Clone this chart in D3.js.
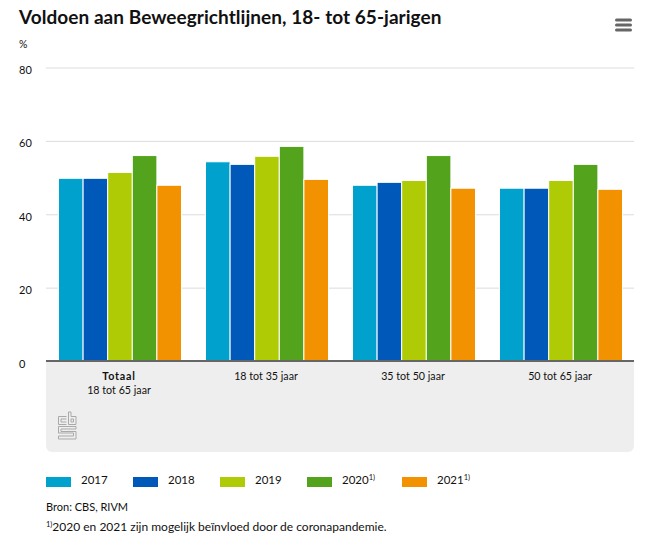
<!DOCTYPE html>
<html><head><meta charset="utf-8">
<script src="https://cdn.jsdelivr.net/npm/d3@7"></script>
<style>
html,body{margin:0;padding:0;background:#fff}
svg{display:block}
text{font-family:"Lato","Noto Sans",sans-serif;fill:#111}
</style></head><body>
<svg id="c" width="657" height="543"></svg>
<script>
const categories = ["Totaal", "18 tot 35 jaar", "35 tot 50 jaar", "50 tot 65 jaar"];
const years = ["2017", "2018", "2019", "2020", "2021"];
const colors = ["#00a1cd", "#0058b8", "#afcb05", "#53a31d", "#f39200"];
const v2017 = [49.8, 54.3, 47.9, 47.1];
const v2018 = [49.8, 53.6, 48.7, 47.1];
const v2019 = [51.4, 55.8, 49.2, 49.2];
const v2020 = [56.0, 58.5, 56.0, 53.6];
const v2021 = [47.9, 49.5, 47.1, 46.8];
const seriesValues = [v2017, v2018, v2019, v2020, v2021];
const yTicks = [0, 20, 40, 60, 80];
const legendMarks = ["", "", "", "1)", "1)"];

const svg = d3.select("#c");
const x0 = d3.scaleBand().domain(categories).range([46, 634]);
const x1 = d3.scaleBand().domain(years).range([12.5, 135.5]);
const y = d3.scaleLinear().domain([0, 80]).range([361, 67.5]);

svg.append("text").attr("x", 19).attr("y", 24).attr("font-size", 19).attr("font-weight", 700)
  .style("letter-spacing", "0.05px").text("Voldoen aan Beweegrichtlijnen, 18- tot 65-jarigen");
svg.append("text").attr("x", 19).attr("y", 48).attr("font-size", 10.5).text("%");

// menu icon
svg.append("g").attr("fill", "#666").selectAll("rect").data([0, 1, 2]).join("rect")
  .attr("x", 615).attr("y", d => 18.5 + d * 5).attr("width", 17).attr("height", 3).attr("rx", 1.5);

// panel
svg.append("path").attr("fill", "#eeeeee")
  .attr("d", "M46,361H634V446a6,6 0 0 1 -6,6H52a6,6 0 0 1 -6,-6Z");

// grid + axis labels
const grid = svg.append("g");
grid.selectAll("line").data(yTicks.filter(d => d > 0)).join("line")
  .attr("x1", 46).attr("x2", 634).attr("y1", d => y(d) + .5).attr("y2", d => y(d) + .5)
  .attr("stroke", "#dcdcdc").attr("stroke-width", 1);
grid.selectAll("text").data(yTicks).join("text")
  .attr("x", 19).attr("y", d => y(d) + 6.5).attr("font-size", 11).text(d => d);

// bars
const groups = svg.append("g").selectAll("g").data(categories).join("g")
  .attr("transform", c => `translate(${x0(c)},0)`);
groups.selectAll("rect").data((c, i) => years.map((yr, s) => ({yr, s, v: seriesValues[s][i]}))).join("rect")
  .attr("x", d => x1(d.yr)).attr("width", x1.bandwidth())
  .attr("y", d => y(d.v)).attr("height", d => y(0) - y(d.v))
  .attr("fill", d => colors[d.s]).attr("stroke", "#fff").attr("stroke-width", 1);

// axis line
svg.append("line").attr("x1", 46).attr("x2", 634).attr("y1", 361).attr("y2", 361)
  .attr("stroke", "#666").attr("stroke-width", 2);

// category labels
const lab = svg.append("g").attr("text-anchor", "middle").attr("font-size", 10.7);
lab.selectAll("text.cat").data(categories).join("text").attr("class", "cat")
  .attr("x", c => x0(c) + x0.bandwidth() / 2 - 0.5).attr("y", 380)
  .attr("font-weight", (c, i) => i === 0 ? 700 : 400)
  .style("letter-spacing", (c, i) => i === 0 ? "0.8px" : "0").text(c => c);
lab.append("text").attr("x", x0(categories[0]) + x0.bandwidth() / 2 - 0.5).attr("y", 394).text("18 tot 65 jaar");

// cbs logo
const logo = svg.append("g").attr("fill", "none").attr("stroke", "#a9a9a9").attr("stroke-width", 1);
logo.append("path").attr("d", "M66.5,416.5H58.5V424.5H66.5M66.5,419H61V422H66.5");
logo.append("path").attr("d", "M68.5,424.5V412H71V416.5H76V424.5ZM71,419V422H73.5V419Z");
logo.append("path").attr("d", "M76,426.5H58.5V433H73.5V436H58.5V439H76V431.5H61V429H76Z");

// legend
const legendX = [46, 133, 220, 307, 402];
const leg = svg.append("g").selectAll("g").data(years).join("g")
  .attr("transform", (d, i) => `translate(${legendX[i]},0)`);
leg.append("rect").attr("y", 477).attr("width", 25).attr("height", 10).attr("fill", (d, i) => colors[i]);
const lt = leg.append("text").attr("x", 35).attr("y", 484).attr("font-size", 11.5);
lt.append("tspan").text(d => d);
lt.append("tspan").attr("dy", -4).attr("font-size", 7.5).text((d, i) => legendMarks[i]);

svg.append("text").attr("x", 46).attr("y", 511).attr("font-size", 11).text("Bron: CBS, RIVM");
const fn = svg.append("text").attr("x", 46).attr("y", 531).attr("font-size", 12);
fn.append("tspan").attr("dy", -4).attr("font-size", 7.5).text("1)");
fn.append("tspan").attr("dy", 4).text("2020 en 2021 zijn mogelijk beïnvloed door de coronapandemie.");
</script>
</body></html>
